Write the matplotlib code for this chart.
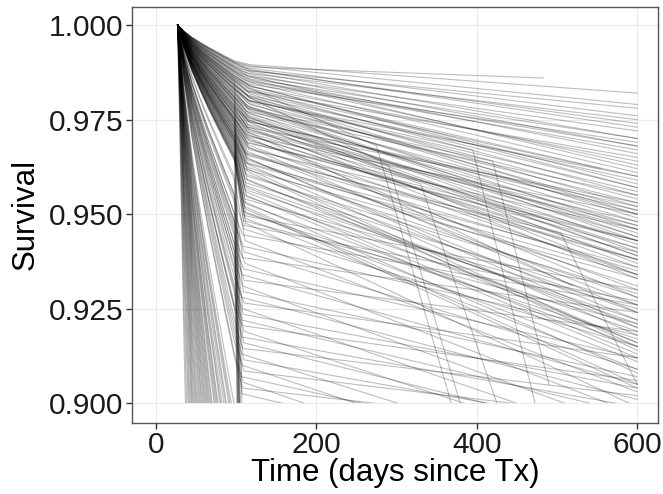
import matplotlib
matplotlib.use("Agg")
import matplotlib.pyplot as plt
from matplotlib.patches import Rectangle

plt.rcParams['font.family'] = ['Liberation Sans', 'DejaVu Sans']

# shared shape of the first months after Tx (fraction of the drop reached by day 98)
early_days = [27, 35, 45, 55, 65, 75, 85, 98]
early_frac = [0.0, 0.17, 0.34, 0.48, 0.61, 0.73, 0.85, 1.0]

# low risk patients: survival at day 98, knot day, survival at knot, survival at day 600
low_day98 = [
    0.9905, 0.9903, 0.9901, 0.9899, 0.9896, 0.9893, 0.9891, 0.9888, 0.9886, 0.9883,
    0.9880, 0.9878, 0.9876, 0.9873, 0.9871, 0.9868, 0.9865, 0.9863, 0.9860, 0.9857,
    0.9855, 0.9852, 0.9849, 0.9846, 0.9843, 0.9840, 0.9837, 0.9834, 0.9831, 0.9828,
    0.9825, 0.9822, 0.9819, 0.9816, 0.9812, 0.9809, 0.9806, 0.9803, 0.9800, 0.9797,
    0.9793, 0.9790, 0.9787, 0.9784, 0.9781, 0.9777, 0.9774, 0.9771, 0.9768, 0.9765,
    0.9900, 0.9888, 0.9877, 0.9865, 0.9854, 0.9842, 0.9831, 0.9819, 0.9808, 0.9797,
    0.9786, 0.9775, 0.9764, 0.9753, 0.9742, 0.9731, 0.9720, 0.9710, 0.9700, 0.9690,
]
low_knot_day = [
    118, 117, 119, 116, 118, 115, 117, 116, 118, 115,
    117, 116, 118, 114, 117, 115, 116, 118, 115, 117,
    114, 116, 117, 115, 116, 118, 114, 116, 115, 117,
    114, 116, 115, 117, 114, 116, 115, 113, 116, 114,
    115, 117, 114, 116, 113, 115, 117, 114, 116, 115,
    117, 115, 116, 118, 114, 116, 117, 115, 113, 116,
    114, 115, 117, 113, 114, 116, 112, 115, 113, 114,
]
low_knot = [
    0.9895, 0.9892, 0.9889, 0.9886, 0.9882, 0.9879, 0.9876, 0.9872, 0.9869, 0.9865,
    0.9862, 0.9858, 0.9855, 0.9851, 0.9848, 0.9844, 0.9840, 0.9837, 0.9833, 0.9829,
    0.9826, 0.9822, 0.9818, 0.9814, 0.9810, 0.9806, 0.9802, 0.9798, 0.9794, 0.9790,
    0.9786, 0.9782, 0.9778, 0.9774, 0.9770, 0.9766, 0.9762, 0.9758, 0.9754, 0.9750,
    0.9746, 0.9742, 0.9738, 0.9734, 0.9730, 0.9726, 0.9722, 0.9718, 0.9714, 0.9710,
    0.9880, 0.9866, 0.9853, 0.9839, 0.9826, 0.9812, 0.9799, 0.9785, 0.9772, 0.9758,
    0.9745, 0.9731, 0.9718, 0.9704, 0.9690, 0.9676, 0.9662, 0.9648, 0.9634, 0.9620,
]
low_end = [
    0.982, 0.979, 0.986, 0.976, 0.973, 0.978, 0.970, 0.975, 0.968, 0.972,
    0.966, 0.970, 0.963, 0.967, 0.961, 0.969, 0.958, 0.964, 0.960, 0.955,
    0.962, 0.957, 0.952, 0.959, 0.954, 0.949, 0.956, 0.951, 0.946, 0.953,
    0.948, 0.943, 0.950, 0.945, 0.940, 0.947, 0.942, 0.937, 0.944, 0.939,
    0.951, 0.934, 0.946, 0.941, 0.953, 0.936, 0.948, 0.931, 0.943, 0.938,
    0.974, 0.962, 0.968, 0.957, 0.965, 0.950, 0.960, 0.944, 0.955, 0.939,
    0.952, 0.933, 0.947, 0.928, 0.943, 0.924, 0.938, 0.920, 0.934, 0.915,
]

# intermediate risk
mid_day98 = [
    0.9765, 0.9762, 0.9758, 0.9755, 0.9752, 0.9748, 0.9745, 0.9742, 0.9739, 0.9736,
    0.9732, 0.9729, 0.9726, 0.9723, 0.9720, 0.9716, 0.9713, 0.9710, 0.9707, 0.9704,
    0.9700, 0.9697, 0.9694, 0.9691, 0.9688, 0.9684, 0.9681, 0.9678, 0.9675, 0.9672,
    0.9668, 0.9665, 0.9662, 0.9659, 0.9656, 0.9652, 0.9649, 0.9646, 0.9643, 0.9640,
]
mid_knot_day = [
    115, 113, 116, 114, 115, 113, 116, 114, 112, 115,
    113, 114, 112, 115, 113, 111, 114, 112, 113, 111,
    114, 112, 110, 113, 111, 112, 110, 113, 111, 109,
    112, 110, 111, 109, 112, 110, 111, 109, 112, 110,
]
mid_knot = [
    0.9705, 0.9700, 0.9694, 0.9688, 0.9683, 0.9677, 0.9671, 0.9666, 0.9660, 0.9654,
    0.9648, 0.9643, 0.9637, 0.9631, 0.9625, 0.9619, 0.9613, 0.9607, 0.9601, 0.9595,
    0.9589, 0.9583, 0.9577, 0.9571, 0.9565, 0.9559, 0.9552, 0.9546, 0.9540, 0.9534,
    0.9527, 0.9521, 0.9515, 0.9508, 0.9502, 0.9496, 0.9489, 0.9483, 0.9476, 0.9470,
]
mid_end = [
    0.950, 0.934, 0.941, 0.946, 0.930, 0.938, 0.943, 0.926, 0.935, 0.940,
    0.922, 0.931, 0.936, 0.918, 0.928, 0.933, 0.914, 0.924, 0.929, 0.916,
    0.920, 0.926, 0.921, 0.916, 0.922, 0.913, 0.912, 0.919, 0.925, 0.908,
    0.915, 0.905, 0.904, 0.911, 0.917, 0.930, 0.909, 0.921, 0.899, 0.927,
]

# high risk
high_day98 = [
    0.9540, 0.9500, 0.9590, 0.9480, 0.9470, 0.9550, 0.9440, 0.9420, 0.9530, 0.9400,
    0.9380, 0.9480, 0.9350, 0.9330, 0.9460, 0.9310, 0.9290, 0.9420, 0.9260, 0.9250,
    0.9380, 0.9220, 0.9200, 0.9360, 0.9180, 0.9160, 0.9300, 0.9130, 0.9120, 0.9250,
]
high_knot_day = [
    110, 108, 111, 109, 110, 108, 111, 109, 107, 110,
    108, 109, 107, 110, 108, 109, 107, 108, 110, 107,
    109, 108, 107, 109, 108, 110, 107, 109, 108, 107,
]
high_knot = [
    0.9460, 0.9445, 0.9430, 0.9415, 0.9400, 0.9385, 0.9370, 0.9355, 0.9340, 0.9325,
    0.9310, 0.9295, 0.9280, 0.9265, 0.9250, 0.9235, 0.9220, 0.9205, 0.9190, 0.9175,
    0.9160, 0.9145, 0.9130, 0.9115, 0.9100, 0.9085, 0.9070, 0.9055, 0.9040, 0.9025,
]
high_end = [
    0.915, 0.926, 0.903, 0.918, 0.909, 0.924, 0.897, 0.912, 0.905, 0.919,
    0.893, 0.907, 0.901, 0.912, 0.889, 0.904, 0.897, 0.906, 0.885, 0.899,
    0.890, 0.902, 0.880, 0.893, 0.875, 0.896, 0.884, 0.870, 0.892, 0.878,
]

# sharp fall around day 100
fall_day98 = [0.985, 0.975, 0.965, 0.955, 0.945, 0.970, 0.960, 0.950, 0.980, 0.940]
fall_knot_day = [104, 106, 103, 107, 105, 108, 102, 106, 109, 104]
fall_knot = [0.890, 0.880, 0.885, 0.870, 0.890, 0.875, 0.880, 0.860, 0.885, 0.870]
fall_end = [0.84, 0.83, 0.835, 0.82, 0.84, 0.825, 0.83, 0.81, 0.835, 0.82]

# early failures, below 0.9 before the knot
early_day98 = [
    0.50, 0.56, 0.608, 0.64, 0.664, 0.69, 0.706,
    0.72, 0.733, 0.745, 0.756, 0.765, 0.775, 0.785, 0.792, 0.80, 0.805,
    0.812, 0.817, 0.822, 0.827, 0.832, 0.836, 0.84, 0.844, 0.848, 0.851,
    0.857, 0.86, 0.863, 0.866, 0.868, 0.873, 0.875, 0.878, 0.882, 0.885,
    0.887, 0.891, 0.893, 0.895, 0.899,
]
early_knot = [
    0.47, 0.53, 0.578, 0.61, 0.634, 0.66, 0.676,
    0.69, 0.703, 0.715, 0.726, 0.735, 0.745, 0.755, 0.762, 0.77, 0.775,
    0.782, 0.787, 0.792, 0.797, 0.802, 0.806, 0.81, 0.814, 0.818, 0.821,
    0.827, 0.83, 0.833, 0.836, 0.838, 0.843, 0.845, 0.848, 0.852, 0.855,
    0.857, 0.861, 0.863, 0.865, 0.869,
]

# last day of follow-up when earlier than day 600 (index into the low risk group)
low_censor_day = {2: 483, 20: 555, 47: 520}

# patients whose curve breaks down sharply late in follow-up
late_day98 = [0.986, 0.984, 0.983, 0.981, 0.978, 0.975]
late_knot_day = [116, 115, 117, 114, 116, 113]
late_knot = [0.9835, 0.981, 0.980, 0.978, 0.975, 0.971]
late_break_day = [275, 290, 395, 420, 330, 505]
late_break = [0.968, 0.963, 0.967, 0.964, 0.958, 0.945]
late_end_day = [375, 385, 475, 490, 430, 600]
late_end = [0.895, 0.896, 0.898, 0.905, 0.897, 0.905]

fig = plt.figure(figsize=(6.63, 4.94), dpi=100)
ax = fig.add_axes([0.199, 0.144, 0.7935, 0.842])

# values under 0.9 fall outside the scale and are dropped
keep = Rectangle((-100, 0.9), 900, 0.2, transform=ax.transData)


def draw_curve(days, surv):
    ln, = ax.plot(days, surv, color='black', alpha=0.26, lw=0.8,
                  solid_joinstyle='round', zorder=2)
    ln.set_clip_path(keep)


def early_part(s98):
    return [1 - (1 - s98) * f for f in early_frac]


def draw_group(day98, kday, knot, end, censor=None):
    censor = censor or {}
    for i in range(len(day98)):
        days = early_days + [kday[i], censor.get(i, 600)]
        surv = early_part(day98[i]) + [knot[i], end[i]]
        draw_curve(days, surv)


draw_group(low_day98, low_knot_day, low_knot, low_end, low_censor_day)
draw_group(mid_day98, mid_knot_day, mid_knot, mid_end)
draw_group(high_day98, high_knot_day, high_knot, high_end)
draw_group(fall_day98, fall_knot_day, fall_knot, fall_end)
for s98, sk in zip(early_day98, early_knot):
    draw_curve(early_days + [110], early_part(s98) + [sk])

for i in range(len(late_day98)):
    days = early_days + [late_knot_day[i], late_break_day[i], late_end_day[i]]
    surv = early_part(late_day98[i]) + [late_knot[i], late_break[i], late_end[i]]
    draw_curve(days, surv)

ax.set_xlim(-30, 626)
ax.set_ylim(0.8948, 1.0048)
ax.set_xticks([0, 200, 400, 600])
ax.set_yticks([0.900, 0.925, 0.950, 0.975, 1.000])
ax.set_yticklabels(['0.900', '0.925', '0.950', '0.975', '1.000'])
ax.grid(True, color='#ebebeb', lw=0.8, zorder=0)
ax.set_axisbelow(True)
for sp in ax.spines.values():
    sp.set_color('#555555')
    sp.set_linewidth(1.0)
ax.tick_params(direction='out', length=4, width=1, color='#333333',
               labelsize=21.5, labelcolor='#1a1a1a', pad=2)
ax.set_xlabel('Time (days since Tx)', fontsize=22.5, labelpad=-1)
ax.set_ylabel('Survival', fontsize=22.5, labelpad=6)

fig.savefig('out.png', dpi=100)
